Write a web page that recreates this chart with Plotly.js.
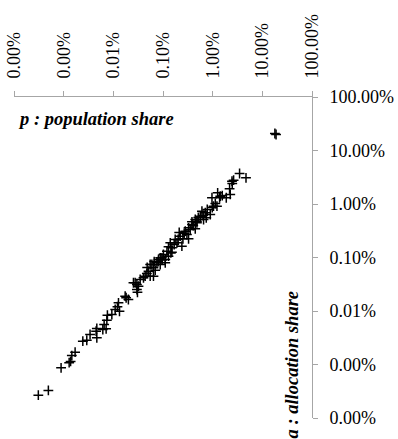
<!DOCTYPE html>
<html>
<head>
<meta charset="utf-8">
<script src="https://cdn.plot.ly/plotly-3.0.1.min.js"></script>
<style>html,body{margin:0;padding:0;background:#fff;}#chart{width:398px;height:439px;}</style>
</head>
<body>
<div id="chart"></div>
<script>
// population share (p) and allocation share (a), as fractions
const popShare = [
  3.09e-6, 4.92e-6, 8.87e-6, 1.29e-5, 1.38e-5, 1.46e-5, 1.70e-5, 2.43e-5, 2.92e-5, 3.40e-5,
  4.65e-5, 4.50e-5, 4.65e-5, 6.14e-5, 7.16e-5, 6.53e-5, 7.40e-5, 7.60e-5, 9.33e-5, 1.09e-4,
  1.21e-4, 1.27e-4, 1.33e-4, 1.81e-4, 2.01e-4, 1.73e-4, 2.54e-4, 2.98e-4, 2.98e-4, 3.06e-4,
  2.75e-4, 3.21e-4, 4.38e-4, 4.73e-4, 4.05e-4, 5.52e-4, 6.43e-4, 5.52e-4, 6.97e-4, 5.11e-4,
  7.54e-4, 6.43e-4, 5.97e-4, 8.79e-4, 8.11e-4, 8.79e-4, 1.02e-3, 1.11e-3, 1.11e-3, 1.29e-3,
  9.51e-4, 1.20e-3, 1.44e-3, 1.51e-3, 1.29e-3, 1.51e-3, 1.40e-3, 1.76e-3, 1.91e-3, 2.40e-3,
  2.22e-3, 2.52e-3, 3.27e-3, 2.81e-3, 3.03e-3, 3.27e-3, 3.53e-3, 4.46e-3, 3.83e-3, 4.46e-3,
  4.82e-3, 5.62e-3, 6.08e-3, 7.10e-3, 8.95e-3, 7.43e-3, 6.56e-3, 9.68e-3, 1.13e-2, 1.22e-2,
  1.26e-2, 1.38e-2, 1.88e-2, 2.19e-2, 2.45e-2, 2.64e-2, 3.48e-2, 4.69e-2, 2.26e-2, 0.189,
  1.42e-2, 1.04e-2, 3.83e-3, 4.82e-3, 8.0e-4, 9.6e-4, 1.68e-3, 2.02e-3, 2.67e-3, 4.06e-3,
  5.13e-3, 7.78e-3, 3.47e-4, 4.80e-4, 6.65e-4, 2.12e-3, 6.45e-3, 9.82e-3, 1.56e-2, 2.48e-2,
  0.179
];
const allocShare = [
  2.67e-6, 3.27e-6, 8.67e-6, 1.08e-5, 1.14e-5, 1.47e-5, 1.70e-5, 2.73e-5, 2.84e-5, 3.64e-5,
  3.15e-5, 4.19e-5, 4.71e-5, 4.51e-5, 4.65e-5, 5.60e-5, 6.73e-5, 8.34e-5, 8.61e-5, 1.07e-4,
  1.20e-4, 1.42e-4, 9.9e-5, 1.77e-4, 1.64e-4, 1.89e-4, 3.37e-4, 3.13e-4, 2.52e-4, 2.24e-4,
  3.37e-4, 2.91e-4, 4.47e-4, 5.02e-4, 4.18e-4, 7.40e-4, 4.47e-4, 4.47e-4, 5.79e-4, 5.55e-4,
  7.96e-4, 6.41e-4, 7.40e-4, 9.87e-4, 9.18e-4, 7.40e-4, 1.14e-3, 7.96e-4, 9.18e-4, 1.06e-3,
  9.87e-4, 1.31e-3, 1.22e-3, 1.26e-3, 1.58e-3, 1.52e-3, 1.88e-3, 2.17e-3, 1.88e-3, 1.63e-3,
  2.50e-3, 2.24e-3, 2.24e-3, 3.10e-3, 2.69e-3, 3.59e-3, 3.33e-3, 3.44e-3, 4.14e-3, 5.13e-3,
  4.78e-3, 5.92e-3, 7.33e-3, 6.86e-3, 6.37e-3, 5.52e-3, 5.13e-3, 1.31e-2, 1.02e-2, 9.10e-3,
  1.62e-2, 1.31e-2, 1.31e-2, 1.92e-2, 2.67e-2, 2.79e-2, 3.72e-2, 3.09e-2, 1.51e-2, 0.199,
  1.40e-2, 9.10e-3, 4.65e-3, 4.46e-3, 8.4e-4, 8.97e-4, 1.75e-3, 2.17e-3, 2.81e-3, 3.96e-3,
  5.60e-3, 7.89e-3, 3.88e-4, 6.50e-4, 8.4e-4, 2.93e-3, 6.10e-3, 8.61e-3, 1.44e-2, 2.42e-2,
  0.208
];
const tickValues = [1e-6, 1e-5, 1e-4, 1e-3, 1e-2, 1e-1, 1];
const tickLabels = ["0.00%", "0.00%", "0.01%", "0.10%", "1.00%", "10.00%", "100.00%"];
const xTitle = "p : population share";
const yTitle = "a : allocation share";

const trace = {
  x: popShare, y: allocShare,
  type: "scatter", mode: "markers",
  marker: {symbol: "cross-thin", size: 7, color: "#000", line: {color: "#000", width: 1.5}},
  hoverinfo: "none"
};

function axisSpec(extra) {
  return Object.assign({
    type: "log", range: [-6, 0], autorange: false,
    tickmode: "array", tickvals: tickValues, ticktext: tickLabels,
    showgrid: false, zeroline: false,
    showline: true, linecolor: "#a6a6a6", linewidth: 1,
    ticks: "outside", ticklen: 5, tickcolor: "#a6a6a6", tickwidth: 1,
    tickfont: {family: "Liberation Serif", size: 18, color: "#000"}
  }, extra);
}

const layout = {
  width: 398, height: 439,
  font: {family: "Liberation Serif", size: 18, color: "#000"},
  margin: {l: 14, r: 86, t: 97, b: 21, pad: 0},
  paper_bgcolor: "#fff", plot_bgcolor: "#fff",
  showlegend: false,
  xaxis: axisSpec({side: "top", tickangle: -90, ticklabelstandoff: 9}),
  yaxis: axisSpec({side: "right", ticklabelstandoff: 8}),
  annotations: [
    {text: "<b><i>" + xTitle + "</i></b>", xref: "paper", yref: "paper", x: 0.008, y: 0.93, xanchor: "left", yanchor: "middle",
     showarrow: false, font: {family: "Liberation Serif", size: 18.5, color: "#000"}},
    {text: "<b><i>" + yTitle + "</i></b>", xref: "paper", yref: "paper", x: 0.933, y: 0.167, xanchor: "center", yanchor: "middle",
     textangle: -90, showarrow: false, font: {family: "Liberation Serif", size: 18.5, color: "#000"}}
  ]
};

Plotly.newPlot("chart", [trace], layout, {displayModeBar: false});
</script>
</body>
</html>
